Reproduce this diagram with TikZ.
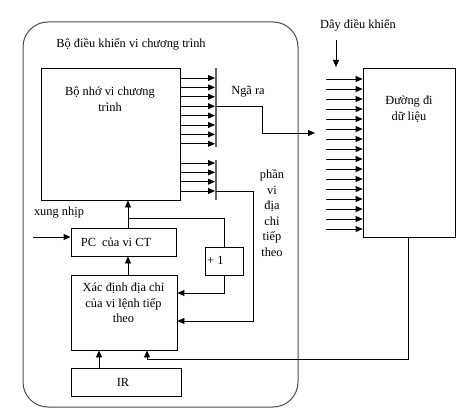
\documentclass[tikz,border=0pt]{standalone}
\usepackage{fontspec}
\setmainfont{Liberation Serif}
\usetikzlibrary{arrows.meta,positioning,calc}

\begin{document}
\begin{tikzpicture}[x=1pt, y=-1pt,
    box/.style={rectangle, draw, line width=0.8pt, inner sep=0pt},
    txt/.style={font=\fontsize{12.4}{15.6}\selectfont, align=center, inner sep=0pt},
    arr/.style={-{Triangle[length=7pt,width=6pt]}, line width=0.8pt},
    ln/.style={line width=0.8pt},
    bar/.style={line width=1.3pt, draw=black!60}
]
    \useasboundingbox (0,0) rectangle (464,420);

    % Outer frame: micro-program controller
    \draw[line width=1pt, draw=black!70, rounded corners=25pt] (23,22) rectangle (298,407);
    \node (title) [txt] at (131,44) {Bộ điều khiển vi chương trình};

    % Control store
    \node (mem) [box, minimum width=139pt, minimum height=132pt] at (110.5,134) {};
    \node (memtxt) [txt] at (110,99) {Bộ nhớ vi chương\\trình};

    % Output bars
    \coordinate (bartop) at (216,68);
    \coordinate (barmid) at (216,147);
    \coordinate (barlo) at (216,160);
    \coordinate (barbot) at (216,200);
    \draw[bar] (bartop) -- (barmid);
    \draw[bar] (barlo) -- (barbot);
    \foreach \i in {0,...,7}
        \draw[arr] (mem.east |- 0,{78+9.4*\i}) -- (215,{78+9.4*\i});
    \foreach \i in {0,...,3}
        \draw[arr] (mem.east |- 0,{163+9.33*\i}) -- (215,{163+9.33*\i});

    % Data path
    \node (datapath) [box, minimum width=92pt, minimum height=169pt] at (409,152.5) {};
    \node (datatxt) [txt] at (409,109) {Đường đi\\dữ liệu};
    \node (dk) [txt] at (358,25) {Dây điều khiển};
    \draw[arr] (336,40) -- (336,67);
    \foreach \i in {0,...,15}
        \draw[arr] (326,{79+10*\i}) -- (datapath.west |- 0,{79+10*\i});

    % Outputs
    \node (ngara) [txt] at (248,92) {Ngã ra};
    \coordinate (outa) at (262,106);
    \draw[arr] (barmid |- outa) -- (outa) |- (315,133);

    \node (phan) [txt] at (272,213) {phần\\vi\\địa\\chỉ\\tiếp\\theo};

    % PC, +1, next address logic, IR
    \node (pc) [box, minimum width=105pt, minimum height=28pt] at (123.5,242) {};
    \node (pctxt) [txt] at (116,242) {PC\ \ của vi CT};
    \node (plusone) [box, minimum width=38pt, minimum height=28pt] at (224,261) {};
    \node (plustxt) [txt, anchor=west] at (207,260) {+ 1};
    \node (xacdinh) [box, minimum width=106pt, minimum height=75pt] at (124,312.5) {};
    \node (xdtxt) [txt] at (123.5,303) {Xác định địa chỉ\\của vi lệnh tiếp\\theo};
    \node (ir) [box, minimum width=110pt, minimum height=28pt] at (126,382) {};
    \node (irtxt) [txt] at (123,382) {IR};

    \node (xung) [txt] at (59,213) {xung nhịp};
    \draw[arr] (33,237) -- (pc.west |- 0,237);

    % Connections
    \coordinate (jn) at (128,218);
    \draw[arr] (pc.north -| jn) -- (mem.south -| jn);
    \draw[ln] (jn) -| (plusone.north);
    \draw[arr] (plusone.south) |- (xacdinh.east |- 0,293);
    \draw[arr] (xacdinh.north -| jn) -- (pc.south -| jn);
    \coordinate (nx) at (253,321);
    \draw[arr] (barbot |- 0,191) -| (nx) -- (xacdinh.east |- nx);
    \draw[arr] (ir.north -| 99,0) -- (xacdinh.south -| 99,0);
    \coordinate (fb) at (408,359);
    \draw[arr] (datapath.south -| fb) -- (fb) -| (xacdinh.south -| 147,0);
\end{tikzpicture}
\end{document}
